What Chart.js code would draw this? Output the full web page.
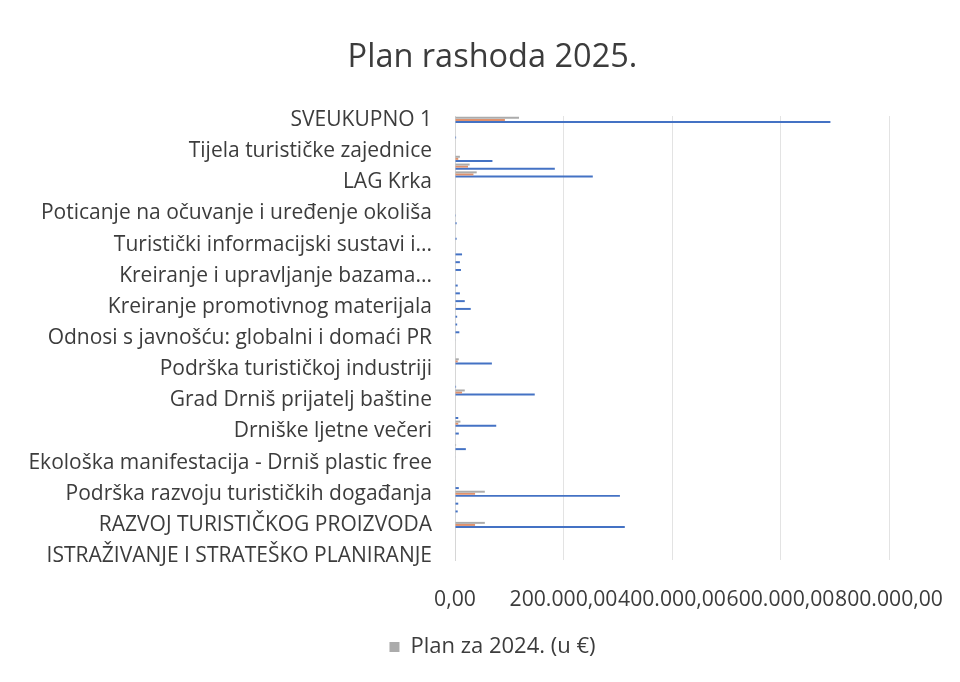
<!DOCTYPE html>
<html>
<head>
<meta charset="utf-8">
<script src="https://cdn.jsdelivr.net/npm/chart.js@4.4.1/dist/chart.umd.min.js"></script>
<style>
  html, body { margin: 0; padding: 0; background: #ffffff; }
  #wrap { width: 960px; height: 682px; position: relative; }
</style>
</head>
<body>
<div id="wrap"><canvas id="c" width="960" height="682"></canvas></div>
<script>
// Visible category labels (every 4th category, top to bottom)
const shownLabels = [
  'SVEUKUPNO 1',
  'Tijela turističke zajednice',
  'LAG Krka',
  'Poticanje na očuvanje i uređenje okoliša',
  'Turistički informacijski sustavi i...',
  'Kreiranje i upravljanje bazama...',
  'Kreiranje promotivnog materijala',
  'Odnosi s javnošću: globalni i domaći PR',
  'Podrška turističkoj industriji',
  'Grad Drniš prijatelj baštine',
  'Drniške ljetne večeri',
  'Ekološka manifestacija - Drniš plastic free',
  'Podrška razvoju turističkih događanja',
  'RAZVOJ TURISTIČKOG PROIZVODA',
  'ISTRAŽIVANJE I STRATEŠKO PLANIRANJE'
];
const categoryCount = 57;
const categories = Array.from({length: categoryCount}, (_, i) => (i % 4 === 0 ? shownLabels[i / 4] : ''));

// Series values (u €), top to bottom
const plan2024 = [
  118000, 0, 0, 0, 0, 9000, 27000, 40000, 0, 0,
  0, 0, 0, 0, 0, 0, 0, 0, 0, 0,
  0, 0, 0, 0, 2000, 0, 0, 0, 0, 0,
  0, 7000, 0, 0, 0, 18000, 0, 0, 0, 10000,
  0, 0, 2000, 0, 0, 0, 0, 0, 55000, 0,
  0, 0, 55000, 0, 0, 0, 0
];
const series2 = [
  92000, 0, 0, 0, 0, 6000, 24000, 34000, 0, 0,
  0, 0, 0, 0, 0, 0, 0, 0, 0, 0,
  0, 0, 0, 0, 1500, 0, 0, 0, 0, 0,
  0, 5000, 0, 0, 0, 13000, 0, 0, 0, 6000,
  0, 0, 0, 0, 0, 0, 0, 0, 37000, 0,
  0, 0, 37000, 0, 0, 0, 0
];
const series3 = [
  692000, 0, 2000, 0, 0, 69000, 184000, 254000, 0, 0,
  0, 0, 1500, 3000, 0, 3000, 0, 13000, 9000, 11000,
  0, 5000, 9000, 18000, 29000, 4000, 4000, 8000, 1000, 0,
  0, 68000, 0, 0, 2000, 147000, 0, 0, 6000, 76000,
  7000, 0, 20000, 1000, 0, 0, 1000, 7000, 304000, 6000,
  5000, 0, 313000, 0, 0, 0, 0
];
const xTickLabels = ['0,00', '200.000,00', '400.000,00', '600.000,00', '800.000,00'];

const FONT = '"Open Sans"';
const TXT = '#3c3c3c';

new Chart(document.getElementById('c'), {
  type: 'bar',
  data: {
    labels: categories,
    datasets: [
      { label: 'Plan za 2024. (u €)', data: plan2024, backgroundColor: '#ababab' },
      { label: 'Niz 2', data: series2, backgroundColor: '#e0916c' },
      { label: 'Niz 3', data: series3, backgroundColor: '#4472c4' }
    ]
  },
  options: {
    indexAxis: 'y',
    responsive: false,
    animation: false,
    layout: { padding: { left: 25, right: 0, top: 0, bottom: 14 } },
    datasets: { bar: { categoryPercentage: 0.8, barPercentage: 0.95 } },
    scales: {
      x: {
        min: 0, max: 800000,
        ticks: {
          stepSize: 200000,
          autoSkip: false, maxRotation: 0, minRotation: 0,
          padding: 27,
          color: TXT,
          font: { family: FONT, size: 21.2 },
          callback: (v, i) => xTickLabels[i]
        },
        grid: { color: '#e3e3e3', drawTicks: false },
        border: { display: false },
        afterFit: (s) => { s.height = 66; s.paddingRight = 71; }
      },
      y: {
        ticks: {
          autoSkip: false,
          padding: 23,
          color: TXT,
          font: { family: FONT, size: 21 }
        },
        grid: { display: false, drawTicks: false },
        border: { display: true, color: '#d6d6d6' },
        afterFit: (s) => { s.width = 430; }
      }
    },
    plugins: {
      title: {
        display: true,
        text: 'Plan rashoda 2025.',
        color: TXT,
        font: { family: FONT, size: 32.5, weight: 'normal' },
        padding: { top: 38, bottom: 39 }
      },
      legend: {
        position: 'bottom',
        labels: {
          filter: (item) => item.datasetIndex === 0,
          boxWidth: 10, boxHeight: 10,
          color: TXT,
          font: { family: FONT, size: 22 }
        }
      },
      tooltip: { enabled: false }
    }
  }
});
</script>
</body>
</html>
